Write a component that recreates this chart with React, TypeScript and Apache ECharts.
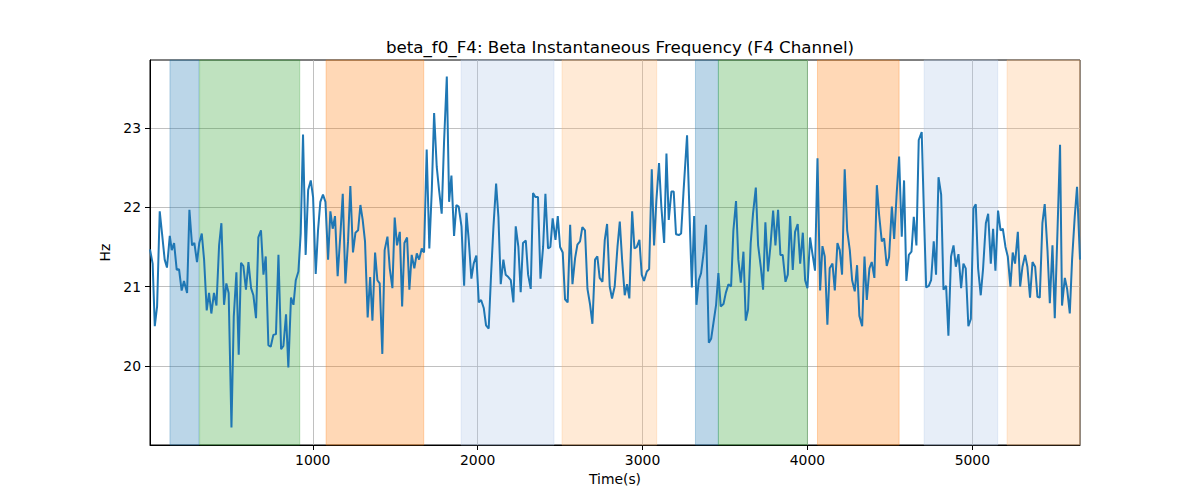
import React, { useEffect, useRef } from "react";
import * as echarts from "echarts";

const times: number[] = [
  13, 29, 42, 56, 72, 86, 102, 116, 133, 145, 159, 175, 189, 205, 219, 238, 252, 268, 282, 298,
  312, 327, 341, 357, 371, 385, 401, 416, 432, 446, 462, 476, 490, 507, 521, 537, 551, 565, 579, 595,
  610, 626, 640, 656, 670, 686, 701, 715,
  731, 745, 761, 777, 792, 808, 822, 838, 852, 868, 883, 897, 913, 927, 941, 957, 972, 988, 1002, 1018,
  1032, 1046, 1062, 1077, 1093, 1107, 1121, 1135, 1151, 1168, 1182, 1198, 1214, 1228, 1244, 1259, 1275, 1289, 1303, 1317,
  1333, 1348, 1362, 1378, 1392, 1406, 1422,
  1436, 1453, 1467, 1483, 1497, 1511, 1528, 1542, 1556, 1572, 1586, 1600, 1616, 1631, 1645, 1661, 1675, 1691, 1707, 1722,
  1736, 1752, 1766, 1782, 1796, 1813, 1827, 1841, 1857, 1871, 1885, 1902, 1918, 1932, 1946, 1962, 1976, 1992, 2007, 2021,
  2037, 2051, 2067, 2081, 2096, 2112,
  2126, 2140, 2156, 2170, 2186, 2201, 2217, 2231, 2247, 2261, 2275, 2292, 2306, 2322, 2336, 2350, 2366, 2381, 2397, 2411,
  2427, 2441, 2455, 2472, 2486, 2500, 2516, 2530, 2546, 2561, 2575, 2591, 2605, 2621, 2635, 2651, 2666, 2682, 2696, 2712,
  2726, 2740, 2757, 2771, 2785, 2801, 2815,
  2831, 2848, 2862, 2876, 2892, 2906, 2920, 2937, 2951, 2965, 2981, 2995, 3009, 3026, 3040, 3056, 3070, 3084, 3100, 3114,
  3131, 3145, 3159, 3175, 3189, 3203, 3220, 3234, 3248, 3270, 3299, 3313, 3327, 3341, 3355, 3371, 3385, 3402, 3416, 3430,
  3446, 3460, 3474, 3491, 3505, 3521,
  3537, 3551, 3567, 3581, 3596, 3612, 3626, 3640, 3656, 3670, 3687, 3701, 3717, 3731, 3745, 3761, 3776, 3792, 3806, 3822,
  3836, 3850, 3867, 3881, 3895, 3911, 3925, 3941, 3956, 3972, 3986, 4000, 4016, 4030, 4046, 4061, 4077, 4091, 4105, 4121,
  4135, 4152, 4166, 4182, 4196, 4210, 4226,
  4241, 4257, 4271, 4287, 4301, 4315, 4332, 4346, 4360, 4376, 4390, 4406, 4421, 4435, 4451, 4465, 4481, 4495, 4512, 4526,
  4542, 4556, 4572, 4586, 4600, 4615, 4631, 4645, 4661, 4675, 4693, 4706, 4720, 4736, 4750, 4766, 4780, 4795, 4811, 4825,
  4841, 4855, 4871, 4886, 4900, 4916,
  4932, 4946, 4960, 4976, 4991, 5007, 5021, 5035, 5051, 5065, 5082, 5096, 5112, 5126, 5140, 5156, 5171, 5185, 5201, 5215,
  5231, 5245, 5259, 5276, 5290, 5304, 5320, 5334, 5350, 5365, 5381, 5395, 5409, 5425, 5439, 5456, 5470, 5486, 5500, 5516,
  5532, 5544, 5561, 5575, 5591, 5605, 5621, 5635, 5653,
];

const hz: number[] = [
  21.47, 21.29, 20.5, 20.75, 21.95, 21.67, 21.34, 21.24, 21.64, 21.46, 21.55, 21.21, 21.22, 20.95, 21.07, 20.92, 21.97, 21.52, 21.55, 21.31,
  21.55, 21.67, 21.34, 20.7, 20.92, 20.66, 20.92, 20.76, 21.52, 21.8, 20.77, 21.04, 20.92, 19.22, 20.62, 21.18, 20.14, 21.3, 21.26, 20.96,
  21.31, 20.98, 20.89, 20.6, 21.62, 21.71, 21.15, 21.38,
  20.26, 20.24, 20.39, 20.4, 21.4, 20.21, 20.25, 20.65, 19.98, 20.86, 20.77, 21.08, 21.19, 21.67, 22.92, 21.4, 22.22, 22.34, 22.13, 21.16,
  21.71, 22.07, 22.16, 22.07, 21.34, 21.95, 21.73, 21.89, 21.13, 21.67, 22.17, 21.04, 21.57, 22.27, 21.43, 21.68, 21.71, 22.03, 21.84, 21.57,
  20.61, 21.12, 20.57, 21.43, 21.08, 21.04, 20.15,
  21.46, 21.63, 21.23, 20.98, 21.87, 21.52, 21.69, 20.75, 21.55, 21.62, 20.96, 21.4, 21.23, 21.42, 21.34, 21.48, 21.43, 22.73, 21.48, 22.22,
  23.19, 22.51, 22.22, 21.92, 22.81, 23.65, 22.07, 22.4, 21.64, 22.03, 22.01, 21.76, 21.01, 21.93, 21.59, 21.1, 21.29, 21.39, 20.8, 20.83,
  20.73, 20.51, 20.47, 21.13, 21.76, 22.3,
  21.88, 21.03, 21.34, 21.15, 21.12, 21.08, 20.8, 21.76, 21.5, 20.93, 21.55, 21.58, 21.15, 20.97, 22.18, 22.13, 22.13, 21.1, 21.5, 22.17,
  21.48, 21.5, 21.86, 21.59, 21.89, 21.5, 21.43, 20.84, 20.8, 21.78, 21.03, 21.36, 21.53, 21.57, 21.75, 21.71, 20.97, 20.77, 20.53, 21.34,
  21.38, 21.11, 21.06, 21.59, 21.79, 21.0, 20.85,
  21.0, 21.5, 21.82, 21.34, 20.89, 21.03, 20.85, 21.95, 21.48, 21.5, 21.59, 21.15, 21.07, 21.19, 21.22, 22.48, 21.52, 22.09, 22.56, 22.01,
  21.55, 22.68, 21.84, 22.2, 22.2, 21.66, 21.65, 21.67, 22.18, 22.91, 20.99, 21.89, 20.77, 21.08, 21.17, 21.44, 21.78, 20.29, 20.34, 20.54,
  20.77, 21.17, 20.75, 20.78, 20.92, 21.03,
  21.0, 21.71, 22.08, 21.34, 21.05, 21.44, 20.57, 20.71, 21.55, 21.92, 22.25, 21.52, 21.25, 20.96, 21.81, 21.19, 21.52, 21.96, 21.52, 21.97,
  21.4, 21.4, 21.06, 21.15, 21.89, 21.21, 21.69, 21.79, 21.29, 21.68, 21.08, 20.98, 21.62, 21.42, 21.2, 22.62, 20.95, 21.51, 21.38, 20.52,
  21.23, 21.29, 20.95, 21.55, 21.46, 21.15, 22.48,
  21.71, 21.46, 21.08, 20.94, 21.27, 20.63, 20.5, 21.38, 20.83, 21.23, 21.31, 21.11, 22.28, 21.9, 21.57, 21.61, 21.26, 21.37, 22.01, 21.6,
  22.2, 22.64, 21.63, 22.34, 21.07, 21.4, 21.44, 21.88, 21.52, 22.85, 22.95, 21.96, 20.99, 21.01, 21.08, 21.57, 21.15, 22.38, 22.16, 20.96,
  21.01, 20.38, 21.38, 21.52, 21.25, 21.41,
  20.98, 21.29, 21.23, 20.5, 20.59, 21.99, 22.04, 21.23, 20.89, 21.22, 21.8, 21.92, 21.29, 21.73, 21.2, 21.96, 21.71, 21.73, 21.5, 21.38,
  21.0, 21.43, 21.29, 21.69, 21.0, 21.25, 21.4, 21.25, 20.86, 21.31, 21.25, 20.87, 20.86, 21.8, 22.04, 21.45, 20.79, 21.52, 20.6, 21.67,
  22.79, 20.76, 21.11, 20.97, 20.66, 21.34, 21.88, 22.26, 21.34,
];

// Shaded phases: start, end (seconds) and colour key
const bandStarts: number[] = [134, 314, 1081, 1900, 2512, 3321, 3460, 4061, 4708, 5211];
const bandEnds: number[] = [310, 921, 1673, 2463, 3086, 3460, 4000, 4556, 5154, 5653];
const bandKinds: string[] = ["blue", "green", "orange", "lightblue", "lightorange", "blue", "green", "orange", "lightblue", "lightorange"];

const xTicks: number[] = [1000, 2000, 3000, 4000, 5000];
const yTicks: number[] = [20, 21, 22, 23];

const bandColors: Record<string, string> = {
  blue: "rgba(31,119,180,0.3)",
  green: "rgba(44,160,44,0.3)",
  orange: "rgba(255,127,14,0.3)",
  lightblue: "rgba(174,199,232,0.3)",
  lightorange: "rgba(255,187,120,0.3)",
};

export default function App() {
  const ref = useRef<HTMLDivElement>(null);
  useEffect(() => {
    if (!ref.current) return;
    const chart = echarts.init(ref.current, undefined, { renderer: "svg" });
    const font = "DejaVu Sans";
    const areas = bandStarts.map((s, i) => {
      const c = bandColors[bandKinds[i]];
      return [
        { xAxis: s, itemStyle: { color: c, borderColor: c, borderWidth: 1 } },
        { xAxis: bandEnds[i] },
      ];
    });
    chart.setOption({
      animation: false,
      textStyle: { fontFamily: font },
      title: {
        text: "beta_f0_F4: Beta Instantaneous Frequency (F4 Channel)",
        left: 615,
        top: 33,
        textAlign: "center",
        textStyle: { fontFamily: font, fontSize: 16.7, fontWeight: "normal", color: "#000" },
      },
      grid: {
        left: 150,
        right: 120,
        top: 60,
        bottom: 55,
        show: true,
        borderColor: "#000",
        borderWidth: 1,
        backgroundColor: "transparent",
      },
      xAxis: {
        type: "value",
        min: 13,
        max: 5653,
        minInterval: 1000,
        maxInterval: 1000,
        name: "Time(s)",
        nameLocation: "middle",
        nameGap: 27,
        nameTextStyle: { fontFamily: font, fontSize: 13.9, color: "#000" },
        axisLine: { show: true, lineStyle: { color: "#000", width: 1 } },
        axisTick: { show: true, length: 5, inside: false, customValues: xTicks, lineStyle: { color: "#000" } },
        axisLabel: {
          customValues: xTicks,
          formatter: (v: number) => String(v),
          fontFamily: font,
          fontSize: 13.9,
          color: "#000",
          margin: 8,
        },
        splitLine: { show: true, lineStyle: { color: "#b0b0b0", width: 0.8 } },
      },
      yAxis: {
        type: "value",
        min: 19,
        max: 23.86,
        interval: 1,
        name: "Hz",
        nameLocation: "middle",
        nameGap: 30,
        nameTextStyle: { fontFamily: font, fontSize: 13.9, color: "#000" },
        axisLine: { show: true, lineStyle: { color: "#000", width: 1 } },
        axisTick: { show: true, length: 5, inside: false, customValues: yTicks, lineStyle: { color: "#000" } },
        axisLabel: {
          customValues: yTicks,
          formatter: (v: number) => String(v),
          fontFamily: font,
          fontSize: 13.9,
          color: "#000",
          margin: 9,
        },
        splitLine: { show: true, lineStyle: { color: "#b0b0b0", width: 0.8 } },
      },
      series: [
        {
          type: "line",
          data: times.map((t, i) => [t, hz[i]]),
          showSymbol: false,
          symbol: "none",
          clip: true,
          z: 3,
          lineStyle: { color: "#1f77b4", width: 2 },
          itemStyle: { color: "#1f77b4" },
          markArea: { silent: true, z: 1, data: areas },
        },
      ],
    });
    return () => chart.dispose();
  }, []);
  return (
    <div
      ref={ref}
      style={{ position: "fixed", left: 0, top: 0, width: 1200, height: 500, background: "#fff" }}
    />
  );
}
